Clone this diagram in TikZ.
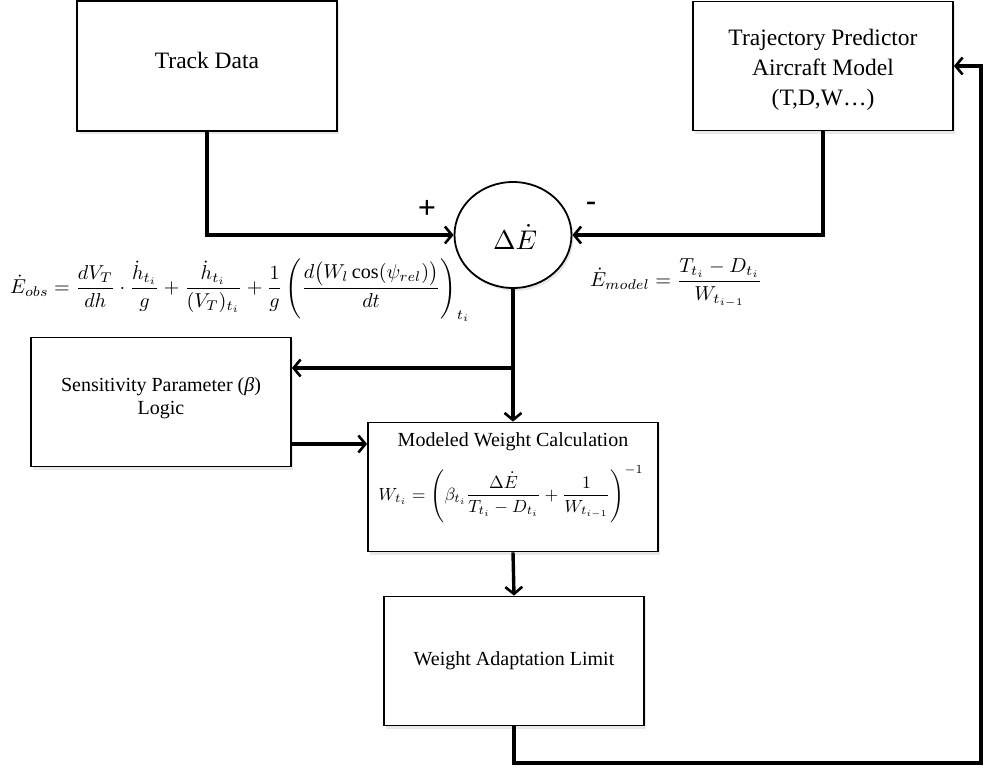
\documentclass[tikz,border=0pt]{standalone}
\usepackage{fontspec}
\setmainfont{Liberation Serif}
\usepackage{amsmath}
\usetikzlibrary{arrows.meta,shapes.geometric,shadows,calc}
\begin{document}
\begin{tikzpicture}[x=1pt,y=-1pt,
  box/.style={draw,line width=1.8pt,fill=white,align=center,inner sep=0pt,
    drop shadow={opacity=0.18,shadow xshift=2pt,shadow yshift=-3pt}},
  big/.style={font=\fontsize{23.5}{30}\selectfont},
  mid/.style={font=\fontsize{20}{23}\selectfont},
  txt/.style={inner sep=0pt,align=center},
  conn/.style={line width=3.4pt,line cap=butt},
  arr/.style={conn,-{Straight Barb[length=7pt,width=17pt,line width=2.6pt]}},
  lbl/.style={inner sep=0pt}]
\useasboundingbox (0,0) rectangle (984,769);
\fill[white] (0,0) rectangle (984,769);

\node[box,minimum width=260pt,minimum height=130pt] (track) at (207,66) {};
\node[txt,big] (tracktxt) at (207,60) {Track Data};
\node[box,minimum width=260pt,minimum height=129pt] (traj) at (823,66) {};
\node[txt,big] (trajtxt) at (823,70) {Trajectory Predictor\\Aircraft Model\\(T,D,W\ldots)};
\node[draw,line width=1.8pt,fill=white,ellipse,minimum width=117pt,minimum height=106pt,inner sep=0pt,
  drop shadow={opacity=0.18,shadow xshift=2pt,shadow yshift=-3pt}] (circ) at (513,235) {};
\node[lbl] (circtxt) at (515,237) {\resizebox{44pt}{!}{$\Delta\dot{E}$}};
\node[box,minimum width=260pt,minimum height=129pt] (sens) at (161,402) {};
\node[txt,mid] (senstxt) at (161,398) {Sensitivity Parameter (\textit{β})\\Logic};
\node[box,minimum width=290pt,minimum height=129pt] (model) at (513,487) {};
\node[txt,mid] (mtitle) at (513,442) {Modeled Weight Calculation};
\node[lbl] (mform) at (511,494)
  {\resizebox{265pt}{!}{$W_{t_i}=\left(\beta_{t_i}\dfrac{\Delta\dot{E}}{T_{t_i}-D_{t_i}}+\dfrac{1}{W_{t_{i-1}}}\right)^{-1}$}};
\node[box,minimum width=260pt,minimum height=129pt] (weight) at (514,661) {};
\node[txt,mid] (wtxt) at (514,661) {Weight Adaptation Limit};

\node[font=\fontsize{32}{34}\selectfont\bfseries,inner sep=0pt] (plus) at (427,209) {+};
\node[font=\fontsize{30}{32}\selectfont\bfseries,inner sep=0pt] (minus) at (591,206) {-};

\node[lbl,anchor=west] (eobs) at (10,290)
  {\resizebox{460pt}{!}{$\dot{E}_{obs}=\dfrac{dV_T}{dh}\cdot\dfrac{\dot{h}_{t_i}}{g}+\dfrac{\dot{h}_{t_i}}{(V_T)_{t_i}}+\dfrac{1}{g}\left(\dfrac{d\bigl(W_l\cos(\psi_{rel})\bigr)}{dt}\right)_{t_i}$}};
\node[lbl,anchor=west] (emod) at (590,283)
  {\resizebox{172pt}{!}{$\dot{E}_{model}=\dfrac{T_{t_i}-D_{t_i}}{W_{t_{i-1}}}$}};

\coordinate (br) at (513,368);
\coordinate (s2) at (291,444);
\coordinate (c1) at (514,763);
\coordinate (c2) at (981,763);
\coordinate (c3) at (981,66);

\draw[arr] (track.south) |- (circ.west);
\draw[arr] (traj.south) |- (circ.east);
\draw[arr] (circ.south) -- (model.north);
\draw[arr] (br) -- (br -| sens.east);
\draw[arr] (s2) -- (s2 -| model.west);
\draw[arr] (model.south) -- (weight.north);
\draw[arr] (weight.south) -- (c1) -- (c2) -- (c3) -- (traj.east);
\end{tikzpicture}
\end{document}
